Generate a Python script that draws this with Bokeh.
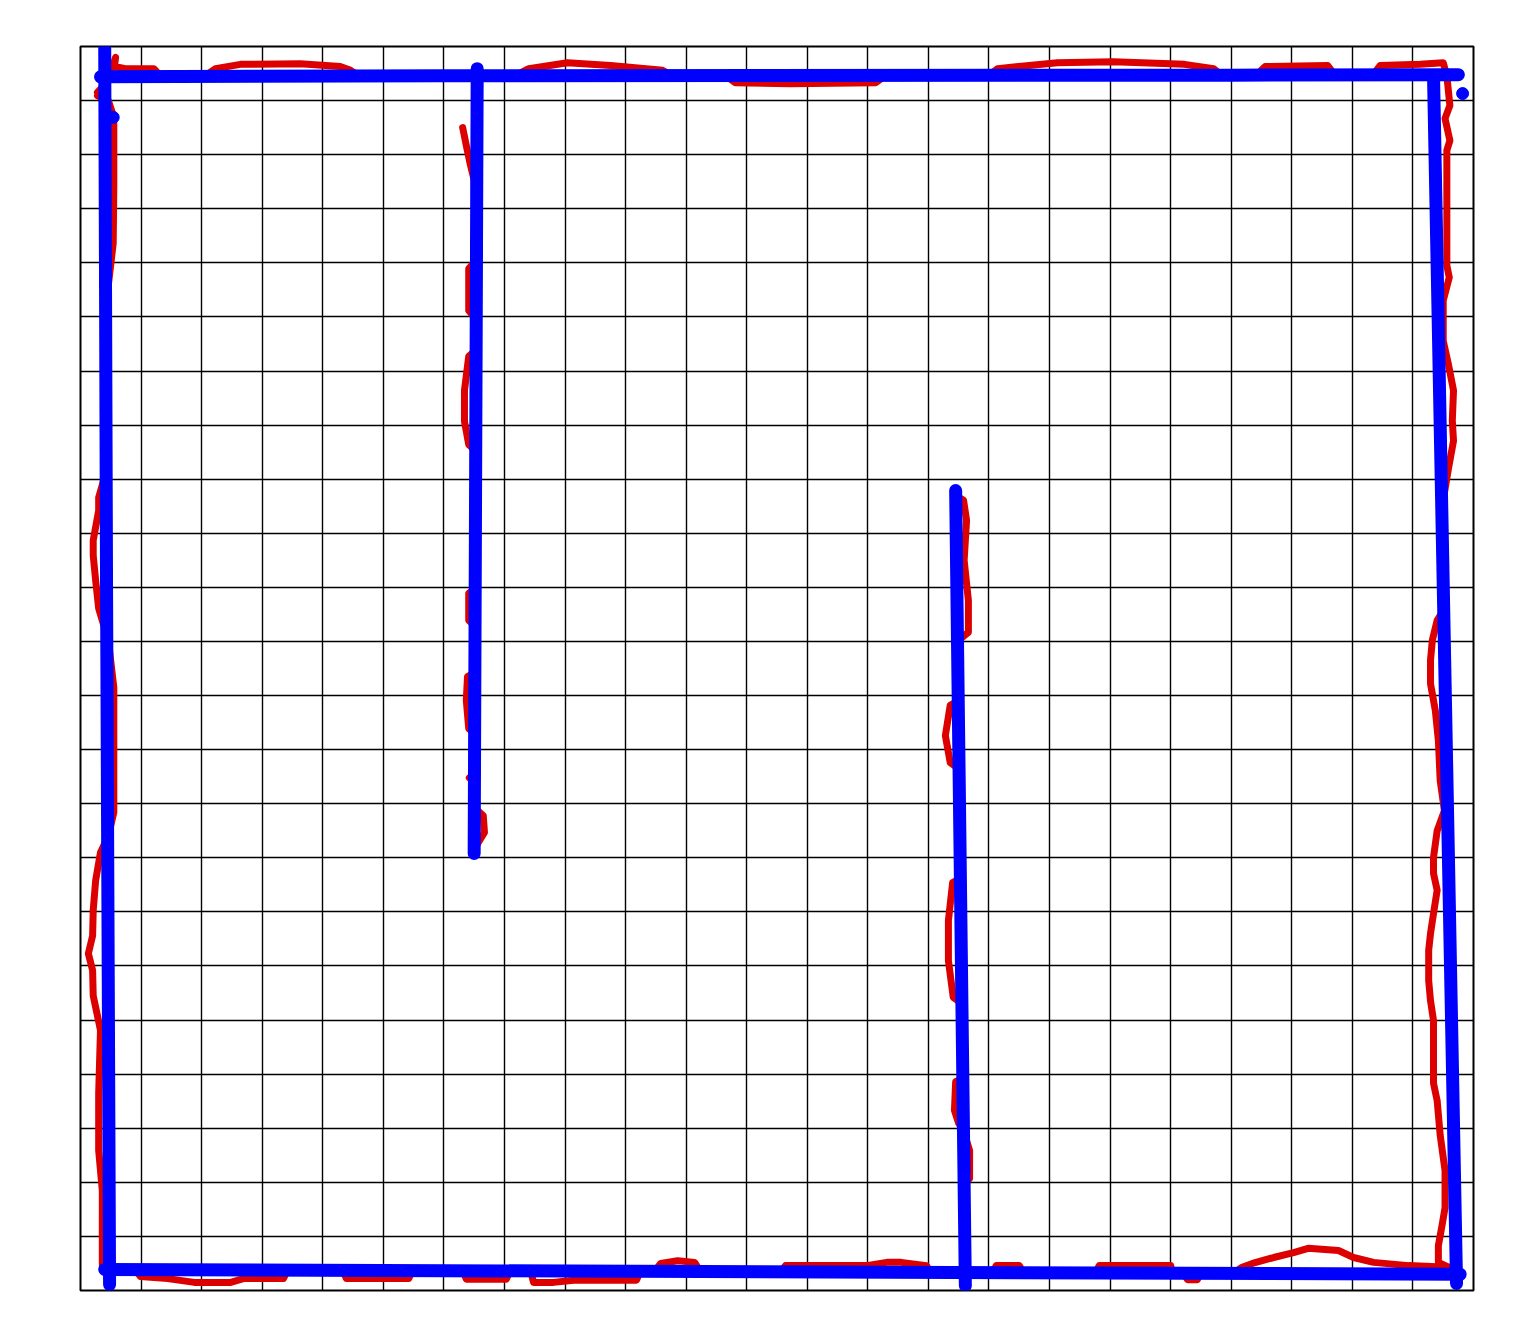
from bokeh.plotting import figure
from bokeh.models import Range1d, FixedTicker
from bokeh.embed import file_html
from bokeh.resources import INLINE

# map is 23 x 23 grid cells, values are in cell units
n_cells = 23

# fitted walls (blue)
wall_xs = [
    [0.40, 0.43, 0.48],
    [0.33, 5.99, 18.99, 22.75],
    [6.55, 6.50],
    [14.45, 14.61],
    [22.34, 22.72],
    [0.40, 10.24, 22.78],
]
wall_ys = [
    [22.96, 13.0, 0.11],
    [22.44, 22.46, 22.47, 22.48],
    [22.59, 8.08],
    [14.79, 0.09],
    [22.46, 0.13],
    [0.39, 0.35, 0.30],
]
corner_x = [0.54, 22.82]
corner_y = [21.69, 22.13]

# raw traced outline (red): top
top_x = [0.28, 0.46, 0.58, 0.56, 0.74, 1.21, 1.32, 2.06, 2.23, 2.64, 3.63, 4.29,
         4.46, 4.59, 7.18, 7.40, 8.04, 8.75, 9.61, 9.77, 10.65, 10.81, 11.72,
         13.13, 13.29, 14.99, 15.14, 16.13, 17.05, 18.23, 18.71, 18.85, 19.40,
         19.56, 20.59, 20.72, 21.33, 21.46, 22.12, 22.50]
top_y = [22.15, 22.37, 22.80, 22.63, 22.59, 22.59, 22.46, 22.46, 22.59, 22.67,
         22.68, 22.63, 22.56, 22.46, 22.46, 22.59, 22.70, 22.65, 22.56, 22.46,
         22.46, 22.33, 22.31, 22.33, 22.46, 22.46, 22.59, 22.70, 22.72, 22.67,
         22.59, 22.46, 22.46, 22.63, 22.65, 22.46, 22.46, 22.65, 22.67, 22.70]
# right side
right_x = [22.56, 22.61, 22.53, 22.61, 22.56, 22.56, 22.60, 22.50, 22.50, 22.59,
           22.67, 22.65, 22.67, 22.59, 22.50, 22.50, 22.40, 22.32, 22.29, 22.29,
           22.37, 22.42, 22.45, 22.52, 22.40, 22.34, 22.34, 22.40, 22.34, 22.29,
           22.26, 22.26, 22.29, 22.34, 22.34, 22.40, 22.45, 22.53, 22.53, 22.48,
           22.42, 22.42, 22.59]
right_y = [22.46, 21.91, 21.67, 21.26, 21.08, 18.95, 18.73, 18.30, 17.56, 17.10,
           16.64, 16.08, 15.71, 15.22, 14.61, 12.57, 12.39, 12.02, 11.65, 11.22,
           10.72, 10.17, 9.43, 8.87, 8.50, 8.01, 7.71, 7.40, 6.97, 6.60, 6.29,
           5.73, 5.36, 4.99, 3.83, 3.51, 2.87, 2.22, 1.53, 1.20, 0.83, 0.52, 0.43]
# bottom, right to left
bottom_x = [21.93, 21.35, 21.02, 20.77, 20.27, 20.03, 19.70, 19.35, 19.18, 19.02,
            18.49, 18.44, 18.28, 18.21, 18.03, 18.00, 16.82, 16.76, 15.57, 15.50,
            15.12, 15.06, 14.03, 13.97, 13.55, 13.31, 12.98, 11.64, 11.56, 10.24,
            10.14, 9.86, 9.58, 9.49, 9.25, 9.18, 8.14, 7.81, 7.48, 7.43, 7.10,
            7.03, 6.37, 6.31, 5.48, 5.42, 4.39, 4.33, 3.42, 3.35, 2.69, 2.48, 1.88,
            1.44, 0.99, 0.91, 0.50, 0.36]
bottom_y = [0.46, 0.52, 0.61, 0.74, 0.78, 0.70, 0.61, 0.50, 0.43, 0.31, 0.31,
            0.20, 0.20, 0.31, 0.31, 0.46, 0.46, 0.33, 0.33, 0.46, 0.46, 0.33,
            0.33, 0.46, 0.52, 0.52, 0.46, 0.46, 0.35, 0.35, 0.52, 0.55, 0.50,
            0.37, 0.37, 0.19, 0.19, 0.15, 0.15, 0.37, 0.37, 0.21, 0.21, 0.37,
            0.37, 0.22, 0.22, 0.37, 0.37, 0.22, 0.22, 0.15, 0.15, 0.22, 0.26,
            0.37, 0.37, 0.46]
# left side, bottom to top
left_x = [0.36, 0.30, 0.30, 0.33, 0.28, 0.21, 0.20, 0.13, 0.20, 0.21, 0.25, 0.33,
          0.46, 0.55, 0.55, 0.55, 0.46, 0.30, 0.25, 0.21, 0.21, 0.30, 0.30, 0.43,
          0.43, 0.54, 0.55, 0.55, 0.46, 0.28]
left_y = [1.85, 2.59, 3.64, 4.81, 5.08, 5.45, 5.92, 6.23, 6.56, 7.03, 7.58, 8.10,
          8.41, 8.84, 10.17, 11.15, 12.02, 12.61, 13.13, 13.59, 13.87, 14.42,
          14.66, 15.16, 18.30, 19.36, 20.39, 21.69, 22.00, 22.09]

# traced inner walls (red)
inner1_x = [6.31, 6.37, 6.44, 6.50, 6.52, 6.41, 6.41, 6.52, 6.52, 6.41, 6.34, 6.34,
            6.41, 6.52, 6.52, 6.41, 6.41, 6.52, 6.52, 6.39, 6.37, 6.41, 6.52, 6.52,
            6.42, 6.52, 6.52, 6.65, 6.67, 6.54]
inner1_y = [21.50, 21.17, 20.80, 20.53, 19.04, 18.89, 18.12, 17.97, 17.38, 17.27,
            16.64, 16.07, 15.64, 15.53, 12.98, 12.89, 12.39, 12.28, 11.43, 11.35,
            10.91, 10.39, 10.28, 9.58, 9.48, 9.39, 8.91, 8.78, 8.47, 8.23]
inner2_x = [14.45, 14.58, 14.63, 14.59, 14.66, 14.66, 14.50, 14.50, 14.36, 14.28,
            14.36, 14.50, 14.53, 14.40, 14.33, 14.33, 14.41, 14.55, 14.56, 14.45,
            14.43, 14.50, 14.58, 14.68, 14.68, 14.58, 14.59]
inner2_y = [14.70, 14.61, 14.24, 13.50, 12.76, 12.17, 12.02, 10.91, 10.82, 10.26,
            9.76, 9.65, 7.62, 7.54, 6.84, 6.10, 5.42, 5.31, 3.92, 3.86, 3.33, 3.09,
            2.96, 2.59, 2.07, 1.94, 0.46]

outer_x = top_x + right_x + bottom_x + left_x
outer_y = top_y + right_y + bottom_y + left_y

p = figure(
    frame_width=1393,
    frame_height=1244,
    min_border_left=80,
    min_border_right=40,
    min_border_top=46,
    min_border_bottom=40,
    x_range=Range1d(0, n_cells),
    y_range=Range1d(0, n_cells),
    x_axis_location=None,
    y_axis_location=None,
    output_backend="svg",
    toolbar_location=None,
)
p.background_fill_color = "white"
p.outline_line_color = "black"
p.outline_line_width = 2

for g in (p.xgrid, p.ygrid):
    g.ticker = FixedTicker(ticks=list(range(n_cells + 1)))
    g.grid_line_color = "black"
    g.grid_line_alpha = 1.0
    g.grid_line_width = 1.4

red = "#dc0000"
for xs, ys in ((outer_x, outer_y), (inner1_x, inner1_y), (inner2_x, inner2_y)):
    p.line(xs, ys, line_color=red, line_width=7, line_join="round", line_cap="round")

p.multi_line(wall_xs, wall_ys, line_color="#0000ff", line_width=13,
             line_join="round", line_cap="round")
p.scatter(corner_x, corner_y, size=12, color="#0000ff")

open("out.html", "w").write(file_html(p, INLINE))
